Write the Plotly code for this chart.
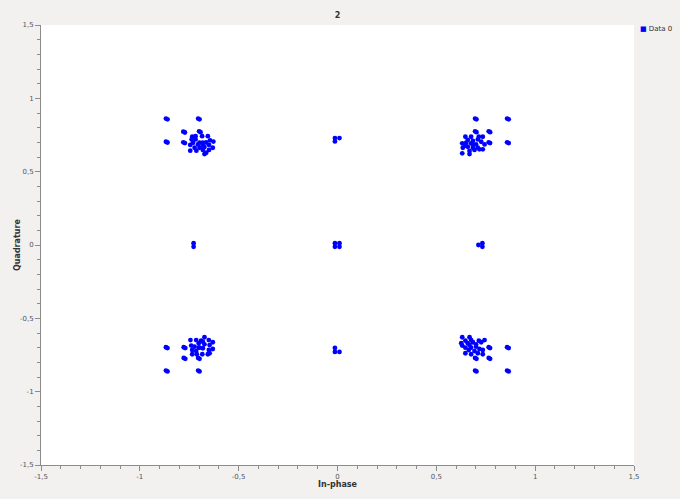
import plotly.graph_objects as go

# ---- data (In-phase, Quadrature) ----
# outer fixed clusters, each a small blob of overlapping symbols
fixed_i = [-0.868, -0.860, -0.705, -0.698, -0.868, -0.860, -0.780, -0.772, -0.780, -0.772, -0.700, -0.693,
           0.696, 0.703, 0.858, 0.866, 0.696, 0.703, 0.765, 0.772, 0.765, 0.772, 0.858, 0.866,
           -0.868, -0.860, -0.778, -0.770, -0.778, -0.770, -0.705, -0.698, -0.868, -0.860, -0.705, -0.698,
           0.696, 0.703, 0.858, 0.866, 0.696, 0.703, 0.765, 0.772, 0.765, 0.772, 0.858, 0.866]
fixed_q = [0.862, 0.857, 0.862, 0.857, 0.704, 0.699, 0.773, 0.767, 0.700, 0.695, 0.775, 0.769,
           0.862, 0.857, 0.862, 0.857, 0.775, 0.769, 0.775, 0.769, 0.700, 0.695, 0.700, 0.695,
           -0.697, -0.703, -0.697, -0.703, -0.770, -0.776, -0.770, -0.776, -0.856, -0.862, -0.856, -0.862,
           -0.856, -0.862, -0.856, -0.862, -0.770, -0.776, -0.770, -0.776, -0.697, -0.703, -0.697, -0.703]

# inner noisy clouds
tl_i = [-0.735, -0.718, -0.685, -0.656, -0.738, -0.718, -0.645, -0.628, -0.698, -0.681, -0.664, -0.731, -0.745,
        -0.706, -0.681, -0.650, -0.698, -0.673, -0.631, -0.723, -0.745, -0.714, -0.681, -0.650, -0.673, -0.664]
tl_q = [0.738, 0.742, 0.742, 0.742, 0.720, 0.720, 0.714, 0.705, 0.697, 0.697, 0.699, 0.697, 0.682,
        0.686, 0.679, 0.682, 0.663, 0.668, 0.663, 0.663, 0.643, 0.643, 0.648, 0.648, 0.620, 0.629]

tr_i = [0.647, 0.676, 0.715, 0.735, 0.659, 0.685, 0.710, 0.727, 0.631, 0.651, 0.676, 0.701, 0.744,
        0.634, 0.659, 0.685, 0.710, 0.735, 0.668, 0.693, 0.718, 0.631, 0.668, 0.647, 0.685]
tr_q = [0.738, 0.738, 0.738, 0.738, 0.716, 0.709, 0.720, 0.704, 0.693, 0.697, 0.693, 0.686, 0.686,
        0.663, 0.670, 0.663, 0.663, 0.652, 0.641, 0.648, 0.652, 0.625, 0.620, 0.677, 0.682]

bl_i = [-0.673, -0.744, -0.715, -0.690, -0.651, -0.631, -0.702, -0.673, -0.647, -0.740, -0.723, -0.702,
        -0.681, -0.651, -0.631, -0.735, -0.715, -0.735, -0.712, -0.684, -0.656, -0.647, -0.698, -0.681]
bl_q = [-0.629, -0.648, -0.648, -0.652, -0.648, -0.663, -0.670, -0.677, -0.682, -0.686, -0.693, -0.700,
        -0.704, -0.716, -0.709, -0.716, -0.723, -0.745, -0.745, -0.745, -0.745, -0.738, -0.700, -0.659]

br_i = [0.631, 0.668, 0.647, 0.676, 0.715, 0.744, 0.626, 0.659, 0.685, 0.701, 0.727, 0.647,
        0.676, 0.701, 0.718, 0.735, 0.647, 0.676, 0.710, 0.735, 0.631, 0.664, 0.693, 0.668]
br_q = [-0.629, -0.629, -0.652, -0.648, -0.652, -0.648, -0.670, -0.670, -0.663, -0.677, -0.663, -0.700,
        -0.700, -0.693, -0.709, -0.716, -0.738, -0.745, -0.738, -0.745, -0.686, -0.716, -0.723, -0.682]

# small groups on the axes
axis_i = [-0.013, 0.010, -0.013, -0.013, -0.013, 0.010, -0.013, 0.010, -0.013, 0.010,
          -0.728, -0.728, 0.713, 0.733, 0.733]
axis_q = [0.729, 0.729, 0.706, -0.702, -0.729, -0.729, 0.012, 0.012, -0.012, -0.012,
          0.012, -0.012, 0.000, 0.012, -0.012]

I = fixed_i + tl_i + tr_i + bl_i + br_i + axis_i
Q = fixed_q + tl_q + tr_q + bl_q + br_q + axis_q

tick_vals = [-1.5, -1.0, -0.5, 0.0, 0.5, 1.0, 1.5]
tick_text = ["-1,5", "-1", "-0,5", "0", "0,5", "1", "1,5"]

W, H = 680, 499
ML, MR, MT, MB = 41, 46, 25, 34
PW, PH = W - ML - MR, H - MT - MB

fig = go.Figure()
fig.add_trace(go.Scatter(
    x=I, y=Q, mode="markers", name="Data 0",
    marker=dict(color="#0000ff", size=4.8, line=dict(width=0)),
    showlegend=False,
))

axis_common = dict(
    range=[-1.5, 1.5], tickvals=tick_vals, ticktext=tick_text, automargin=False,
    showgrid=False, zeroline=False, showline=True, linecolor="#8c8c8c", linewidth=1,
    ticks="outside", ticklen=5, tickwidth=1, tickcolor="#8c8c8c",
    tickfont=dict(family="DejaVu Sans", size=7, color="#555555"),
    minor=dict(dtick=0.1, ticks="outside", ticklen=3, tickcolor="#8c8c8c", showgrid=False),
    fixedrange=True,
)

title_font = dict(family="DejaVu Sans", size=8, color="#333333")

fig.update_layout(
    width=W, height=H,
    margin=dict(l=ML, r=MR, t=MT, b=MB, autoexpand=False),
    paper_bgcolor="#f2f1f0", plot_bgcolor="#ffffff",
    title=dict(text="<b>2</b>", x=0.5, xref="paper", y=1 - 15 / H, yref="container",
               xanchor="center", yanchor="middle", automargin=False, font=title_font),
    xaxis=axis_common,
    yaxis=axis_common,
    showlegend=False,
)

# axis titles
fig.add_annotation(xref="paper", yref="paper", x=0.5, y=-(484 - (H - MB)) / PH,
                   xanchor="center", yanchor="middle", showarrow=False,
                   text="<b>In-phase</b>", font=title_font)
fig.add_annotation(xref="paper", yref="paper", x=-(ML - 17) / PW, y=0.5,
                   xanchor="center", yanchor="middle", showarrow=False, textangle=-90,
                   text="<b>Quadrature</b>", font=title_font)

# legend entry
fig.add_annotation(
    xref="paper", yref="paper", x=1.0, y=1.0, xshift=4, yshift=2,
    xanchor="left", yanchor="top", showarrow=False,
    text="<span style='color:#0000ff'>■</span> Data 0",
    font=dict(family="DejaVu Sans", size=7, color="#333333"),
)

fig.write_html("out.html", config={"displayModeBar": False},
               post_script="document.body.style.margin='0';document.body.style.background='#f2f1f0';")
